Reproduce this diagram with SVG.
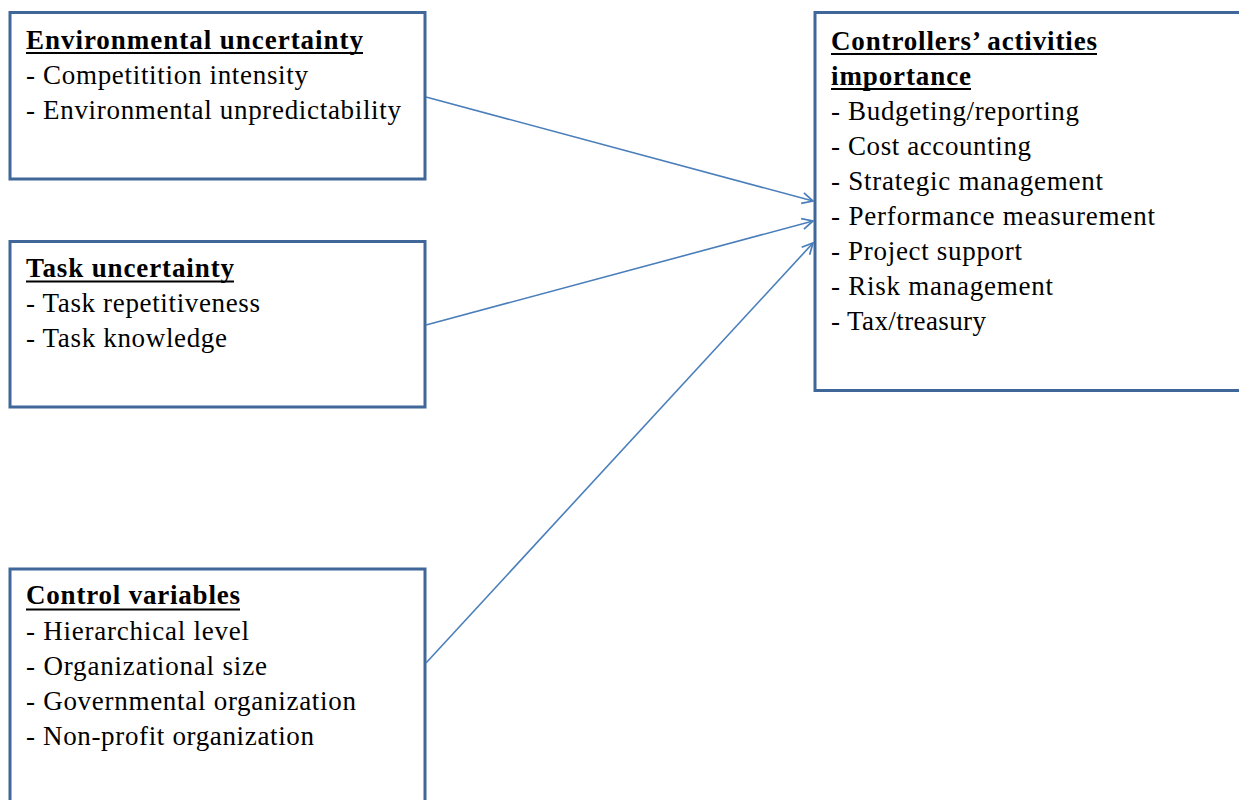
<svg xmlns="http://www.w3.org/2000/svg" width="1239" height="800" viewBox="0 0 1239 800">
<defs>
<style>
.box{fill:#fff;stroke:#3f6799;stroke-width:3}
text{font-family:"Liberation Serif","Times New Roman",serif;font-size:27px;fill:#000}
.h{font-weight:bold}
.ul{stroke:#000;stroke-width:2}
.conn{stroke:#4a7ebb;stroke-width:1.6;fill:none}
</style>
<marker id="arr" viewBox="0 0 12 12" refX="11" refY="6" markerWidth="13" markerHeight="13" markerUnits="userSpaceOnUse" orient="auto">
<path d="M1,1 L11,6 L1,11" fill="none" stroke="#4a7ebb" stroke-width="1.6"/>
</marker>
</defs>
<rect width="1239" height="800" fill="#fff"/>
<g id="env">
<rect class="box" x="10" y="12.5" width="415" height="166.5"/>
<text x="26" y="49" class="h" textLength="337" lengthAdjust="spacing">Environmental uncertainty</text>
<line class="ul" x1="26" y1="53" x2="363" y2="53"/>
<text x="26" y="84" textLength="282" lengthAdjust="spacing">- Competitition intensity</text>
<text x="26" y="119" textLength="375" lengthAdjust="spacing">- Environmental unpredictability</text>
</g>
<g id="task">
<rect class="box" x="10" y="241.5" width="415" height="165.5"/>
<text x="26" y="277" class="h" textLength="208" lengthAdjust="spacing">Task uncertainty</text>
<line class="ul" x1="26" y1="281.5" x2="234" y2="281.5"/>
<text x="26" y="312" textLength="234" lengthAdjust="spacing">- Task repetitiveness</text>
<text x="26" y="347" textLength="201" lengthAdjust="spacing">- Task knowledge</text>
</g>
<g id="control">
<rect class="box" x="10" y="569" width="415" height="240"/>
<text x="26" y="604" class="h" textLength="214" lengthAdjust="spacing">Control variables</text>
<line class="ul" x1="26" y1="609.5" x2="240" y2="609.5"/>
<text x="26" y="640" textLength="223" lengthAdjust="spacing">- Hierarchical level</text>
<text x="26" y="675" textLength="241" lengthAdjust="spacing">- Organizational size</text>
<text x="26" y="710" textLength="330" lengthAdjust="spacing">- Governmental organization</text>
<text x="26" y="745" textLength="288" lengthAdjust="spacing">- Non-profit organization</text>
</g>
<g id="outcome">
<rect class="box" x="815" y="12.5" width="430" height="378"/>
<text x="831" y="50" class="h" textLength="266" lengthAdjust="spacing">Controllers’ activities</text>
<line class="ul" x1="831" y1="54" x2="1097" y2="54"/>
<text x="831" y="85" class="h" textLength="140" lengthAdjust="spacing">importance</text>
<line class="ul" x1="831" y1="89" x2="971" y2="89"/>
<text x="831" y="120" textLength="248" lengthAdjust="spacing">- Budgeting/reporting</text>
<text x="831" y="155" textLength="200" lengthAdjust="spacing">- Cost accounting</text>
<text x="831" y="190" textLength="272" lengthAdjust="spacing">- Strategic management</text>
<text x="831" y="225" textLength="324" lengthAdjust="spacing">- Performance measurement</text>
<text x="831" y="260" textLength="191" lengthAdjust="spacing">- Project support</text>
<text x="831" y="295" textLength="222" lengthAdjust="spacing">- Risk management</text>
<text x="831" y="330" textLength="155" lengthAdjust="spacing">- Tax/treasury</text>
</g>
<g id="connectors">
<line class="conn" x1="426" y1="97" x2="813" y2="201" marker-end="url(#arr)"/>
<line class="conn" x1="426" y1="325" x2="813" y2="221" marker-end="url(#arr)"/>
<line class="conn" x1="426" y1="663" x2="813" y2="243" marker-end="url(#arr)"/>
</g>
</svg>
